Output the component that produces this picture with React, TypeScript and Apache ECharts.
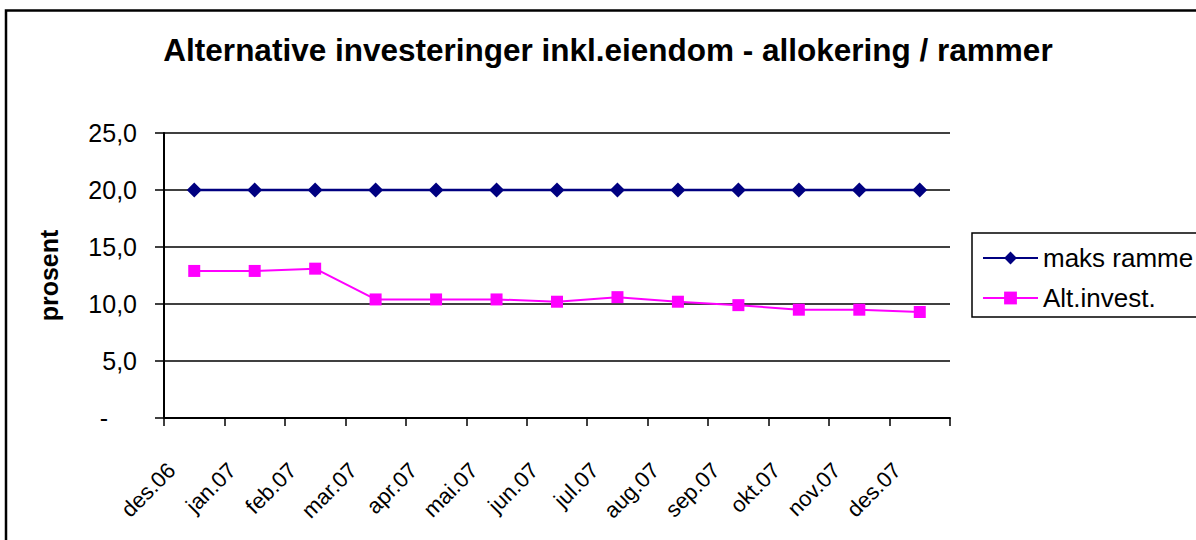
import React, { useEffect, useRef } from "react";
import * as echarts from "echarts";

const categories = [
  "des.06", "jan.07", "feb.07", "mar.07", "apr.07", "mai.07", "jun.07",
  "jul.07", "aug.07", "sep.07", "okt.07", "nov.07", "des.07",
];
const maksRamme = [20, 20, 20, 20, 20, 20, 20, 20, 20, 20, 20, 20, 20];
const altInvest = [12.9, 12.9, 13.1, 10.4, 10.4, 10.4, 10.2, 10.6, 10.2, 9.9, 9.5, 9.5, 9.3];
const seriesNames = ["maks ramme", "Alt.invest."];
const titleText = "Alternative investeringer inkl.eiendom - allokering / rammer";
const yAxisName = "prosent";

const FONT = "'Liberation Sans', Arial, sans-serif";

export default function App() {
  const ref = useRef<HTMLDivElement>(null);
  useEffect(() => {
    const chart = echarts.init(ref.current!, null, { renderer: "svg" });
    chart.setOption({
      animation: false,
      backgroundColor: "#ffffff",
      textStyle: { fontFamily: FONT, color: "#000" },
      title: {
        text: titleText,
        left: 603,
        top: 29,
        textAlign: "center",
        textStyle: { fontFamily: FONT, fontSize: 31.5, fontWeight: "bold", color: "#000" },
      },
      graphic: [
        {
          type: "rect",
          silent: true,
          z: 100,
          shape: { x: 6, y: 10.5, width: 1400, height: 800 },
          style: { fill: "none", stroke: "#000", lineWidth: 2.5 },
        },
        {
          type: "rect",
          silent: true,
          z: 0,
          shape: { x: 972, y: 233, width: 400, height: 84 },
          style: { fill: "#fff", stroke: "#000", lineWidth: 1.5 },
        },
      ],
      legend: {
        orient: "vertical",
        left: 982,
        top: 245,
        padding: 0,
        itemWidth: 55,
        itemHeight: 16,
        itemGap: 14,
        data: seriesNames,
        textStyle: { fontFamily: FONT, fontSize: 26, color: "#000", lineHeight: 26 },
      },
      grid: { left: 164, right: 246, top: 133, bottom: 122, containLabel: false },
      xAxis: {
        type: "category",
        data: categories,
        boundaryGap: true,
        axisLine: { show: true, lineStyle: { color: "#000", width: 2 } },
        axisTick: { show: true, interval: 0, length: 8, lineStyle: { color: "#000", width: 1.5 } },
        axisLabel: {
          interval: 0,
          rotate: 45,
          margin: 26,
          fontFamily: FONT,
          fontSize: 22,
          color: "#000",
          formatter: (v: string) => `{a|${v}}`,
          rich: { a: { fontFamily: FONT, fontSize: 22, color: "#000", padding: [0, 32, 0, 0] } },
        },
        splitLine: { show: false },
      },
      yAxis: {
        type: "value",
        min: 0,
        max: 25,
        interval: 5,
        name: yAxisName,
        nameLocation: "middle",
        nameGap: 103,
        nameRotate: 90,
        nameTextStyle: { fontFamily: FONT, fontSize: 25, fontWeight: "bold", color: "#000" },
        axisLine: { show: true, lineStyle: { color: "#000", width: 2 } },
        axisTick: { show: true, inside: false, length: 9, lineStyle: { color: "#000", width: 1.5 } },
        splitLine: { show: true, lineStyle: { color: "#000", width: 1.5 } },
        axisLabel: {
          margin: 27,
          fontFamily: FONT,
          fontSize: 25,
          color: "#000",
          formatter: (v: number) => (v === 0 ? "{d|-}" : v.toFixed(1).replace(".", ",")),
          rich: { d: { fontFamily: FONT, fontSize: 25, color: "#000", padding: [0, 29, 0, 0] } },
        },
      },
      series: [
        {
          name: seriesNames[0],
          type: "line",
          data: maksRamme,
          symbol: "diamond",
          symbolSize: 15,
          showAllSymbol: true,
          lineStyle: { color: "#000080", width: 2.5 },
          itemStyle: { color: "#000080" },
          z: 3,
        },
        {
          name: seriesNames[1],
          type: "line",
          data: altInvest,
          symbol: "rect",
          symbolSize: 12,
          showAllSymbol: true,
          lineStyle: { color: "#FF00FF", width: 2 },
          itemStyle: { color: "#FF00FF" },
          z: 4,
        },
      ],
    });
    return () => chart.dispose();
  }, []);
  return (
    <div
      ref={ref}
      style={{ position: "absolute", left: 0, top: 0, width: 1196, height: 540 }}
    />
  );
}
